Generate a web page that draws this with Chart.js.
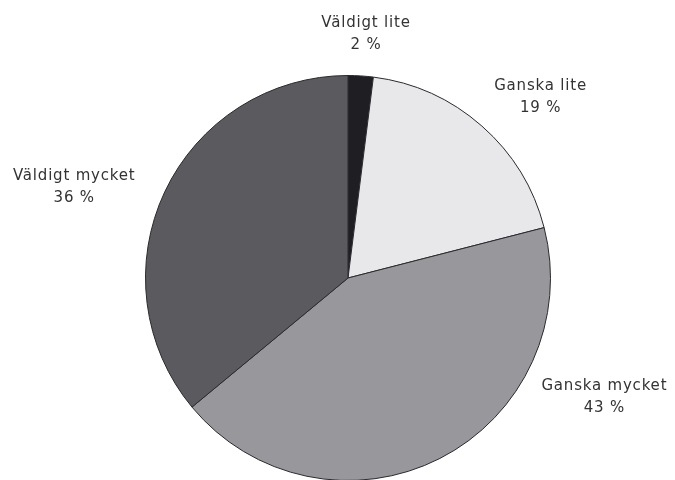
<!DOCTYPE html>
<html>
<head>
<meta charset="utf-8">
<script src="https://cdn.jsdelivr.net/npm/chart.js@4/dist/chart.umd.min.js"></script>
<style>
html,body{margin:0;padding:0;background:#fff;overflow:hidden;}
#wrap{width:675px;height:490px;position:relative;}
</style>
</head>
<body>
<div id="wrap"><canvas id="c"></canvas></div>
<script>
const categories = ["Väldigt lite", "Ganska lite", "Ganska mycket", "Väldigt mycket"];
const values = [2, 19, 43, 36];
const valueLabels = ["2 %", "19 %", "43 %", "36 %"];
const colors = ["#1f1f23", "#e8e8ea", "#98979c", "#5b5a5f"];
// label block centres, in units of the pie radius relative to its centre
const labelOffsets = [[0.089, -1.204], [0.951, -0.894], [1.266, 0.586], [-1.352, -0.448]];

const labelPlugin = {
  id: 'pieLabels',
  afterDraw(chart) {
    const ctx = chart.ctx;
    const meta = chart.getDatasetMeta(0);
    const arc0 = meta.data[0];
    const cx = arc0.x, cy = arc0.y, r = arc0.outerRadius;
    ctx.save();
    ctx.fillStyle = '#333333';
    ctx.font = '15px "DejaVu Sans"';
    if ('letterSpacing' in ctx) ctx.letterSpacing = '0.8px';
    ctx.textAlign = 'center';
    ctx.textBaseline = 'middle';
    categories.forEach((cat, i) => {
      const x = cx + labelOffsets[i][0] * r;
      const y = cy + labelOffsets[i][1] * r;
      ctx.fillText(cat, x, y - 11);
      ctx.fillText(valueLabels[i], x, y + 11);
    });
    ctx.restore();
  }
};

new Chart(document.getElementById('c'), {
  type: 'pie',
  data: {
    labels: categories,
    datasets: [{
      data: values,
      backgroundColor: colors,
      borderColor: '#2a2a2e',
      borderWidth: 1
    }]
  },
  options: {
    responsive: true,
    maintainAspectRatio: false,
    animation: false,
    layout: { padding: { top: 75, left: 145, right: 124, bottom: 9 } },
    plugins: { legend: { display: false }, tooltip: { enabled: false } }
  },
  plugins: [labelPlugin]
});
</script>
</body>
</html>
